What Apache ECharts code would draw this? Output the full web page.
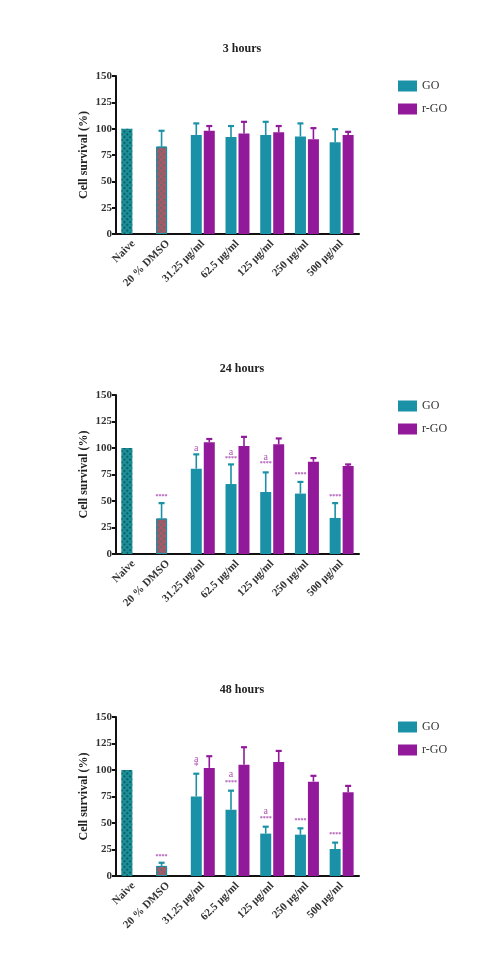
<!DOCTYPE html>
<html>
<head>
<meta charset="utf-8">
<script src="https://cdn.jsdelivr.net/npm/echarts@6/dist/echarts.min.js"></script>
<style>
html,body{margin:0;padding:0;background:#fff;}
#chart{width:494px;height:960px;}
</style>
</head>
<body>
<div id="chart"></div>
<script>
// ---------- data ----------
const categories = ['Naive', '20 % DMSO', '31.25 μg/ml', '62.5 μg/ml', '125 μg/ml', '250 μg/ml', '500 μg/ml'];
const titles = ['3 hours', '24 hours', '48 hours'];
const yTicks = [0, 25, 50, 75, 100, 125, 150];

// 3 hours
const go3 = [100, 83, 94, 92, 94, 92.5, 87];
const go3Err = [null, 98, 105, 102.5, 106.5, 105, 99.5];
const rgo3 = [null, null, 98, 95.5, 96.5, 90, 94];
const rgo3Err = [null, null, 102.5, 106.5, 102.5, 100.5, 97];

// 24 hours
const go24 = [100, 33.5, 80.5, 66, 58.5, 57, 34];
const go24Err = [null, 48, 94, 84.5, 77, 68, 48];
const rgo24 = [null, null, 105.5, 102, 103.5, 87, 83];
const rgo24Err = [null, null, 108.5, 110.5, 109, 90.5, 84.5];
const ann24Cat = [1, 3, 4, 5, 6, 2, 3, 4];
const ann24Y = [54.5, 90, 85, 75.5, 54.5, 100, 96, 91];
const ann24Text = ['****', '****', '****', '****', '****', 'a', 'a', 'a'];

// 48 hours
const go48 = [100, 9.5, 75, 62.5, 40, 39, 25.5];
const go48Err = [null, 12.5, 96.5, 80.5, 46.5, 45, 31.5];
const rgo48 = [null, null, 102, 105, 107.5, 89, 79];
const rgo48Err = [null, null, 113, 121.5, 118, 94.5, 85];
const ann48Cat = [1, 3, 4, 5, 6, 2, 2, 3, 4];
const ann48Y = [18, 88, 54, 52, 39.5, 110, 103.5, 95.5, 61];
const ann48Text = ['****', '****', '****', '****', '****', 'a', '*', 'a', 'a'];

// ---------- styling ----------
const GO_COLOR = '#1a91a6';
const RGO_COLOR = '#93199b';
const FONT = 'Liberation Serif';
const grids = [
  {left: 116, width: 243, top: 76, height: 158},
  {left: 116, width: 243, top: 395, height: 159},
  {left: 116, width: 243, top: 717, height: 159}
];
const titleTops = [38, 358, 679];
const legendTops = [75, 395, 716];

const naiveStyle = {
  color: '#1b8f98',
  decal: {symbol: 'rect', symbolSize: 1, color: 'rgba(5,60,60,0.55)', dashArrayX: [[2, 2]], dashArrayY: [2, 2], rotation: Math.PI / 4}
};
const dmsoStyle = {
  color: '#a55a66',
  borderColor: GO_COLOR, borderWidth: 1,
  decal: {symbol: 'rect', symbolSize: 1, color: 'rgba(40,120,130,0.5)', dashArrayX: [[2, 2]], dashArrayY: [2, 2], rotation: Math.PI / 4}
};

const OFFSET = 6.5;

function errRender(offset, color) {
  return function (params, api) {
    const c = api.value(0), top = api.value(1), e = api.value(2);
    if (isNaN(top) || isNaN(e)) return null;
    const p1 = api.coord([c, top]);
    const p2 = api.coord([c, e]);
    const x = p1[0] + offset;
    return {
      type: 'group',
      children: [
        {type: 'line', shape: {x1: x, y1: p1[1], x2: x, y2: p2[1]}, style: {stroke: color, lineWidth: 1.6}},
        {type: 'line', shape: {x1: x - 3, y1: p2[1], x2: x + 3, y2: p2[1]}, style: {stroke: color, lineWidth: 2.2}}
      ]
    };
  };
}

function annRender(texts) {
  return function (params, api) {
    const p = api.coord([api.value(0), api.value(1)]);
    const t = texts[params.dataIndex];
    const stars = t === '****';
    return {
      type: 'text',
      x: p[0] - OFFSET, y: p[1],
      style: {
        text: t, fill: '#ad55b5', align: 'center', verticalAlign: 'middle',
        font: (stars ? 'bold 6px ' : '10px ') + '"' + FONT + '"'
      }
    };
  };
}

const sets = [
  {go: go3, goErr: go3Err, rgo: rgo3, rgoErr: rgo3Err, annCat: [], annY: [], annText: []},
  {go: go24, goErr: go24Err, rgo: rgo24, rgoErr: rgo24Err, annCat: ann24Cat, annY: ann24Y, annText: ann24Text},
  {go: go48, goErr: go48Err, rgo: rgo48, rgoErr: rgo48Err, annCat: ann48Cat, annY: ann48Y, annText: ann48Text}
];

const option = {
  animation: false,
  backgroundColor: '#ffffff',
  title: [], legend: [], grid: grids, xAxis: [], yAxis: [], series: []
};

sets.forEach(function (s, i) {
  option.title.push({
    text: titles[i], left: 237, top: titleTops[i], textAlign: 'center',
    textStyle: {fontFamily: FONT, fontWeight: 'bold', fontSize: 12, color: '#222'}
  });
  option.legend.push({
    data: ['GO', 'r-GO'], orient: 'vertical', left: 393, top: legendTops[i],
    itemWidth: 19, itemHeight: 11, itemGap: 11, icon: 'rect',
    textStyle: {fontFamily: FONT, fontSize: 12, color: '#333'}
  });
  option.xAxis.push({
    type: 'category', gridIndex: i, data: categories,
    axisLine: {lineStyle: {color: '#111', width: 2}},
    axisTick: {alignWithLabel: true, length: 5, lineStyle: {color: '#111', width: 2}},
    axisLabel: {interval: 0, rotate: 45, margin: 8, fontFamily: FONT, fontWeight: 'bold', fontSize: 11, color: '#333'}
  });
  option.yAxis.push({
    type: 'value', gridIndex: i, min: 0, max: 150, interval: 25,
    name: 'Cell survival (%)', nameLocation: 'middle', nameGap: 26,
    nameTextStyle: {fontFamily: FONT, fontWeight: 'bold', fontSize: 12, color: '#222'},
    axisLine: {show: true, lineStyle: {color: '#111', width: 2}},
    axisTick: {show: true, length: 4, lineStyle: {color: '#111', width: 2}},
    axisLabel: {margin: 4, fontFamily: FONT, fontWeight: 'bold', fontSize: 11, color: '#333'},
    splitLine: {show: false}
  });
  const goData = s.go.map(function (v, k) {
    if (k === 0) return {value: v, itemStyle: naiveStyle};
    if (k === 1) return {value: v, itemStyle: dmsoStyle};
    return v;
  });
  option.series.push({
    name: 'GO', type: 'bar', xAxisIndex: i, yAxisIndex: i, data: goData,
    barWidth: 11, barGap: '18%', itemStyle: {color: GO_COLOR}, z: 3
  });
  option.series.push({
    name: 'r-GO', type: 'bar', xAxisIndex: i, yAxisIndex: i, data: s.rgo,
    barWidth: 11, barGap: '18%', itemStyle: {color: RGO_COLOR}, z: 3
  });
  option.series.push({
    type: 'custom', xAxisIndex: i, yAxisIndex: i, z: 2,
    renderItem: errRender(-OFFSET, GO_COLOR),
    data: s.go.map(function (v, k) { return [k, v, s.goErr[k] == null ? NaN : s.goErr[k]]; })
  });
  option.series.push({
    type: 'custom', xAxisIndex: i, yAxisIndex: i, z: 2,
    renderItem: errRender(OFFSET, RGO_COLOR),
    data: s.rgo.map(function (v, k) { return [k, v == null ? NaN : v, s.rgoErr[k] == null ? NaN : s.rgoErr[k]]; })
  });
  if (s.annCat.length) {
    option.series.push({
      type: 'custom', xAxisIndex: i, yAxisIndex: i, z: 4,
      renderItem: annRender(s.annText),
      data: s.annCat.map(function (c, k) { return [c, s.annY[k]]; })
    });
  }
});

const chart = echarts.init(document.getElementById('chart'), null, {renderer: 'canvas'});
chart.setOption(option);
</script>
</body>
</html>
